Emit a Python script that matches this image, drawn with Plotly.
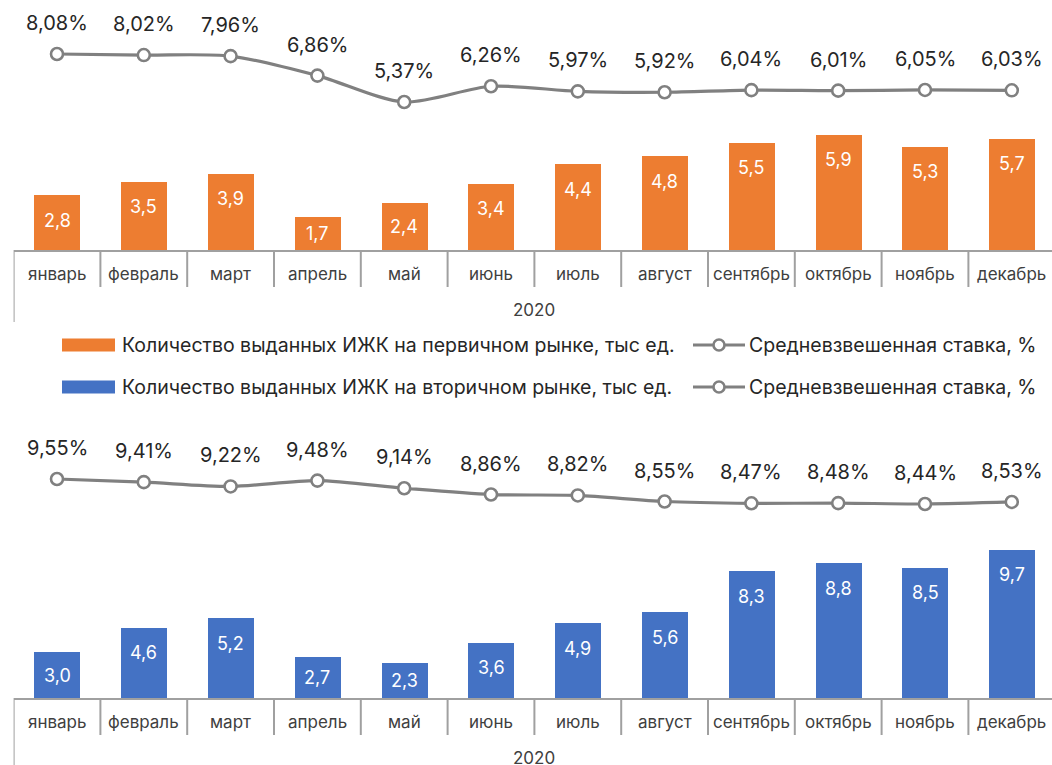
import plotly.graph_objects as go

# ---------------- data ----------------
months = ["январь", "февраль", "март", "апрель", "май", "июнь",
          "июль", "август", "сентябрь", "октябрь", "ноябрь", "декабрь"]
year_label = "2020"

primary_counts = [2.8, 3.5, 3.9, 1.7, 2.4, 3.4, 4.4, 4.8, 5.5, 5.9, 5.3, 5.7]
primary_rates = [8.08, 8.02, 7.96, 6.86, 5.37, 6.26, 5.97, 5.92, 6.04, 6.01, 6.05, 6.03]

secondary_counts = [3.0, 4.6, 5.2, 2.7, 2.3, 3.6, 4.9, 5.6, 8.3, 8.8, 8.5, 9.7]
secondary_rates = [9.55, 9.41, 9.22, 9.48, 9.14, 8.86, 8.82, 8.55, 8.47, 8.48, 8.44, 8.53]

legend_primary_bar = "Количество выданных ИЖК на первичном рынке, тыс ед."
legend_secondary_bar = "Количество выданных ИЖК на вторичном рынке, тыс ед."
legend_rate = "Средневзвешенная ставка, %"

# ---------------- style ----------------
W, H = 1052, 765
FONT = "Inter"
ORANGE = "#ED7D31"
BLUE = "#4472C4"
GRAY_LINE = "#808080"
AXIS_GRAY = "#A0A0A0"
TEXT_DARK = "#262626"
TEXT_MID = "#404040"

x_left_px = 13.6
slot_px = 86.8
x_range = [-0.5, -0.5 + (W - x_left_px) / slot_px]


def py(px):
    return 1 - px / H


def px_x(px):
    return px / W


panels = [
    dict(counts=primary_counts, rates=primary_rates, color=ORANGE,
         baseline=250, top=15, bar_ppu=19.5, rate_ppu=17.71, anchor=(8.08, 54),
         xa="x", ya="y", ya2="y2", left_len=72),
    dict(counts=secondary_counts, rates=secondary_rates, color=BLUE,
         baseline=698, top=410, bar_ppu=15.3, rate_ppu=22.5, anchor=(9.55, 479),
         xa="x2", ya="y3", ya2="y4", left_len=80),
]

fig = go.Figure()
annotations = []
shapes = []
xs = list(range(len(months)))

layout_axes = {}
for k, p in enumerate(panels):
    h_px = p["baseline"] - p["top"]
    bar_range = [0, h_px / p["bar_ppu"]]
    r_bottom = p["anchor"][0] - (p["baseline"] - p["anchor"][1]) / p["rate_ppu"]
    rate_range = [r_bottom, r_bottom + h_px / p["rate_ppu"]]

    fig.add_trace(go.Bar(
        x=xs, y=p["counts"], marker=dict(color=p["color"], line=dict(width=0)),
        width=0.53, xaxis=p["xa"], yaxis=p["ya"], showlegend=False, hoverinfo="skip"))
    fig.add_trace(go.Scatter(
        x=xs, y=p["rates"], mode="lines+markers",
        line=dict(color=GRAY_LINE, width=3.2, shape="spline", smoothing=0.8),
        marker=dict(size=12, color="white", line=dict(color=GRAY_LINE, width=2.6)),
        xaxis=p["xa"], yaxis=p["ya2"], showlegend=False, hoverinfo="skip"))

    xname = "xaxis" if p["xa"] == "x" else "xaxis" + p["xa"][1:]
    yname = "yaxis" if p["ya"] == "y" else "yaxis" + p["ya"][1:]
    y2name = "yaxis" + p["ya2"][1:]
    domain = [py(p["baseline"]), py(p["top"])]
    layout_axes[xname] = dict(domain=[px_x(x_left_px), 1], range=x_range, anchor=p["ya"],
                              showline=True, linecolor=AXIS_GRAY, linewidth=2,
                              showticklabels=False, showgrid=False, zeroline=False,
                              ticks="", fixedrange=True)
    layout_axes[yname] = dict(domain=domain, range=bar_range, anchor=p["xa"], visible=False,
                              fixedrange=True)
    layout_axes[y2name] = dict(range=rate_range, overlaying=p["ya"], anchor=p["xa"],
                               visible=False, fixedrange=True)

    # bar value labels
    for i, v in enumerate(p["counts"]):
        shift = min(25, v * p["bar_ppu"] / 2)
        annotations.append(dict(x=i, y=v, xref=p["xa"], yref=p["ya"],
                                text=f"{v:.1f}".replace(".", ","), showarrow=False,
                                yanchor="middle", yshift=-shift,
                                font=dict(family=FONT, size=18, color="white")))
    # rate labels
    for i, v in enumerate(p["rates"]):
        annotations.append(dict(x=i, y=v, xref=p["xa"], yref=p["ya2"],
                                text=f"{v:.2f}".replace(".", ",") + "%", showarrow=False,
                                yanchor="middle", yshift=31,
                                font=dict(family=FONT, size=20, color=TEXT_DARK)))
    # month labels
    for i, m in enumerate(months):
        annotations.append(dict(x=i, y=py(p["baseline"] + 23.5), xref=p["xa"], yref="paper",
                                text=m, showarrow=False, yanchor="middle",
                                font=dict(family=FONT, size=17, color=TEXT_MID)))
    annotations.append(dict(x=5.5, y=py(p["baseline"] + 60), xref=p["xa"], yref="paper",
                            text=year_label, showarrow=False, yanchor="middle",
                            font=dict(family=FONT, size=17, color=TEXT_MID)))
    # separators
    for i in range(len(months)):
        length = p["left_len"] if i == 0 else 37
        shapes.append(dict(type="line", xref=p["xa"], yref="paper",
                           x0=i - 0.5, x1=i - 0.5,
                           y0=py(p["baseline"]), y1=py(p["baseline"] + length),
                           line=dict(color=AXIS_GRAY, width=2)))

# ---------------- legends ----------------
legend_rows = [(345, ORANGE, legend_primary_bar), (387, BLUE, legend_secondary_bar)]
for yc, col, label in legend_rows:
    shapes.append(dict(type="rect", xref="paper", yref="paper",
                       x0=px_x(62), x1=px_x(115), y0=py(yc - 6.5), y1=py(yc + 6.5),
                       fillcolor=col, line=dict(width=0)))
    annotations.append(dict(x=px_x(120), y=py(yc), xref="paper", yref="paper",
                            text=label, showarrow=False, xanchor="left", yanchor="middle",
                            font=dict(family=FONT, size=19.5, color=TEXT_DARK)))
    shapes.append(dict(type="line", xref="paper", yref="paper",
                       x0=px_x(693), x1=px_x(745), y0=py(yc), y1=py(yc),
                       line=dict(color=GRAY_LINE, width=3.2)))
    shapes.append(dict(type="circle", xref="paper", yref="paper",
                       x0=px_x(719 - 5.5), x1=px_x(719 + 5.5),
                       y0=py(yc - 5.5), y1=py(yc + 5.5),
                       fillcolor="white", line=dict(color=GRAY_LINE, width=2.6)))
    annotations.append(dict(x=px_x(747), y=py(yc), xref="paper", yref="paper",
                            text=legend_rate, showarrow=False, xanchor="left", yanchor="middle",
                            font=dict(family=FONT, size=19.5, color=TEXT_DARK)))

fig.update_layout(
    width=W, height=H, margin=dict(l=0, r=0, t=0, b=0),
    paper_bgcolor="white", plot_bgcolor="white",
    showlegend=False, bargap=0,
    annotations=annotations, shapes=shapes,
    font=dict(family=FONT),
    **layout_axes,
)

fig.write_html("out.html", config={"displayModeBar": False})
